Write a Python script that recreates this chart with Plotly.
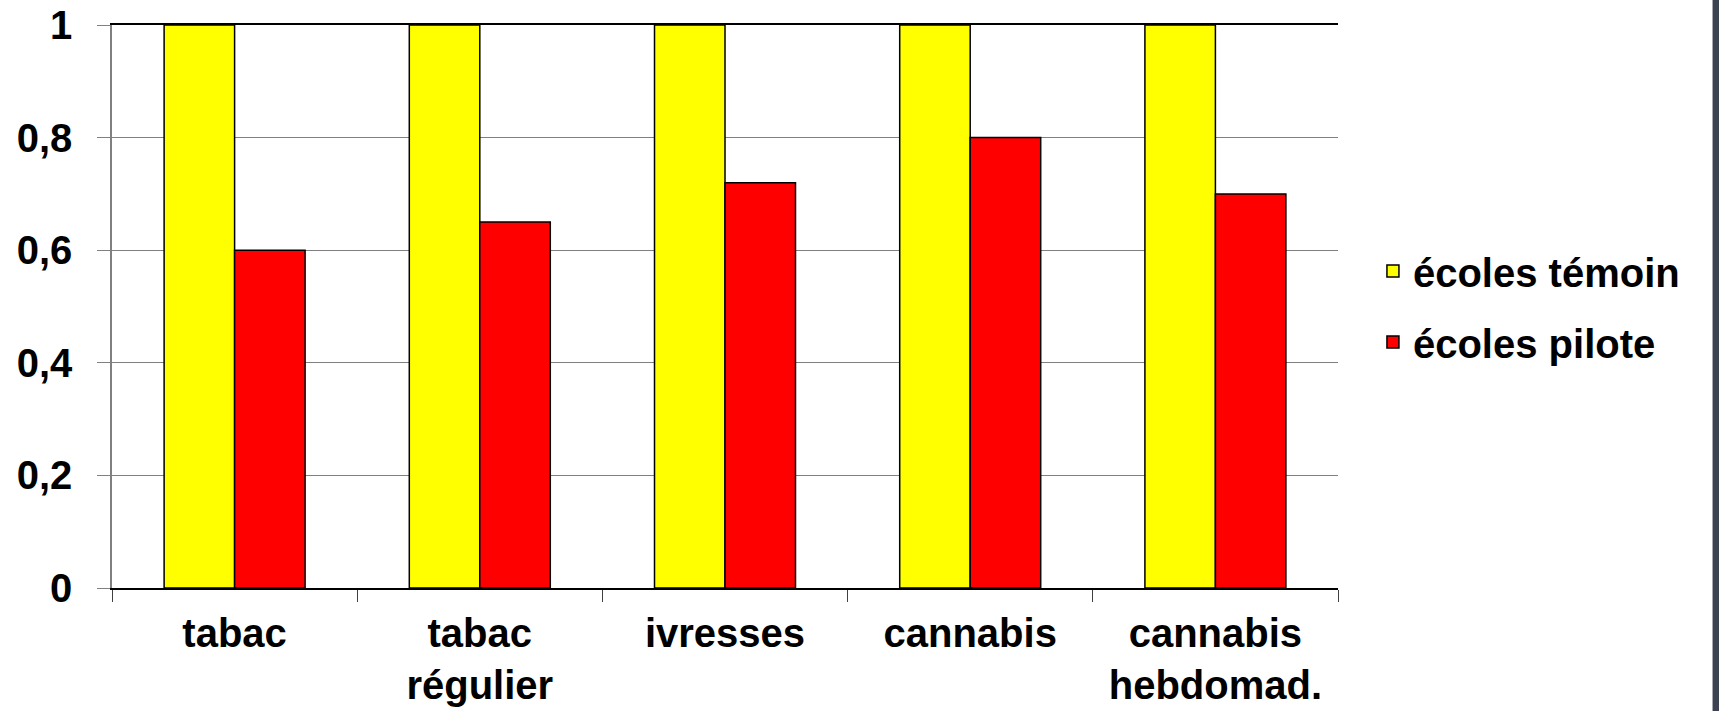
import plotly.graph_objects as go

categories = ["tabac", "tabac<br>régulier", "ivresses", "cannabis", "cannabis<br>hebdomad."]
temoin = [1.0, 1.0, 1.0, 1.0, 1.0]
pilote = [0.60, 0.65, 0.72, 0.80, 0.70]
series_names = ["écoles témoin", "écoles pilote"]
ytick_vals = [0, 0.2, 0.4, 0.6, 0.8, 1.0]
ytick_text = ["0", "0,2", "0,4", "0,6", "0,8", "1"]

FONT = "Liberation Sans, Arial, sans-serif"
TXT = dict(family=FONT, size=40, color="black", weight="bold")

fig = go.Figure()
fig.add_trace(go.Bar(x=categories, y=temoin, name=series_names[0], legendgroup="g1",
                     marker=dict(color="#FFFF00", line=dict(color="#000000", width=1.5))))
fig.add_trace(go.Bar(x=categories, y=pilote, name=series_names[1], legendgroup="g2",
                     marker=dict(color="#FF0000", line=dict(color="#000000", width=1.5))))

fig.update_layout(
    width=1719, height=711,
    margin=dict(l=112, r=381, t=25, b=123, autoexpand=False),
    paper_bgcolor="white", plot_bgcolor="white",
    barmode="group", bargap=0.425, bargroupgap=0,
    font=TXT,
    legend=dict(x=1.0285, y=0.5, xanchor="left", yanchor="middle",
                font=TXT, bgcolor="rgba(0,0,0,0)", itemwidth=30,
                traceorder="grouped", tracegroupgap=16),
    showlegend=True,
    shapes=[dict(type="rect", xref="paper", yref="paper",
                 x0=1.3055, x1=1.4, y0=-0.3, y1=1.1,
                 fillcolor="#3c4250", line=dict(width=0), layer="above")],
)
fig.update_xaxes(
    type="category", showline=True, linecolor="#000000", linewidth=1.5, mirror=True,
    ticks="outside", tickson="boundaries", ticklen=12, tickcolor="#404040", tickwidth=1,
    showgrid=False, tickfont=TXT, ticklabelstandoff=9,
)
fig.update_yaxes(
    range=[0, 1], tickvals=ytick_vals, ticktext=ytick_text,
    showline=True, linecolor="#808080", linewidth=1.5,
    ticks="outside", ticklen=13, tickcolor="#808080", tickwidth=1,
    showgrid=True, gridcolor="#808080", gridwidth=1, zeroline=False,
    ticklabelstandoff=17, tickfont=TXT,
)

fig.write_html("out.html", config={"displayModeBar": False},
               post_script="document.body.style.margin='0';document.body.style.overflow='hidden';")
